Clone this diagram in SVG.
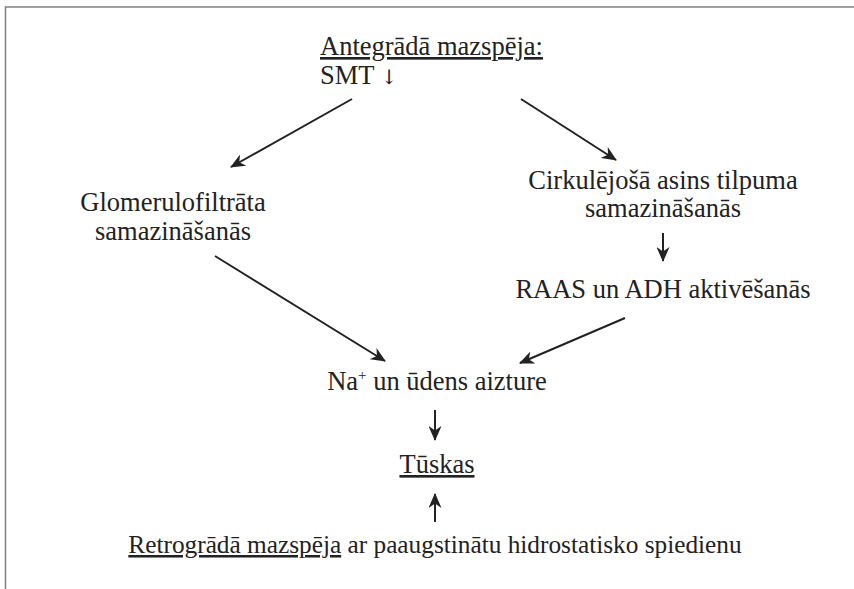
<svg xmlns="http://www.w3.org/2000/svg" width="854" height="589" viewBox="0 0 854 589">
<style>
  text { font-family: "Liberation Serif", "Times New Roman", serif; font-size: 26.5px; fill: #222; }
  .c { text-anchor: middle; }
  .u { text-decoration: underline; }
  .arw { font-family: "DejaVu Serif", "DejaVu Sans", serif; font-size: 20px; }
  .conn line { stroke: #222; stroke-width: 2; fill: none; marker-end: url(#ah); }
  .frame { stroke: #808080; stroke-width: 1.5; fill: none; }
</style>
<defs>
  <marker id="ah" markerUnits="userSpaceOnUse" viewBox="0 0 15 13" markerWidth="15" markerHeight="13" refX="14" refY="6.5" orient="auto">
    <path d="M0,0 L15,6.5 L0,13 L4.5,6.5 Z" fill="#222"/>
  </marker>
</defs>
<rect width="854" height="589" fill="#fff"/>
<path class="frame" d="M5.5,589 V7 H854"/>

<g id="n-antegrada">
  <text x="320" y="55" class="u">Antegrādā mazspēja:</text>
  <text x="320" y="84">SMT <tspan class="arw">↓</tspan></text>
</g>
<g id="n-glomerulo">
  <text x="173" y="211" class="c">Glomerulofiltrāta</text>
  <text x="173" y="240" class="c">samazināšanās</text>
</g>
<g id="n-cirkulejosa">
  <text x="663" y="189" class="c">Cirkulējošā asins tilpuma</text>
  <text x="663" y="217" class="c">samazināšanās</text>
</g>
<g id="n-raas">
  <text x="663" y="298" class="c">RAAS un ADH aktivēšanās</text>
</g>
<g id="n-na">
  <text x="437" y="390" class="c">Na<tspan font-size="15" dy="-10">+</tspan><tspan dy="10"> un ūdens aizture</tspan></text>
</g>
<g id="n-tuskas">
  <text x="437" y="473" class="c u">Tūskas</text>
</g>
<g id="n-retrograda">
  <text x="435" y="553" class="c" style="font-size:25.3px"><tspan class="u">Retrogrādā mazspēja</tspan> ar paaugstinātu hidrostatisko spiedienu</text>
</g>

<g id="connectors" class="conn">
  <line x1="352" y1="99" x2="231" y2="167"/>
  <line x1="521" y1="99" x2="616" y2="160"/>
  <line x1="663" y1="233" x2="663" y2="261"/>
  <line x1="215" y1="256" x2="385" y2="361"/>
  <line x1="625" y1="318" x2="520" y2="363"/>
  <line x1="435" y1="410" x2="435" y2="440"/>
  <line x1="435" y1="522" x2="435" y2="494"/>
</g>
</svg>
